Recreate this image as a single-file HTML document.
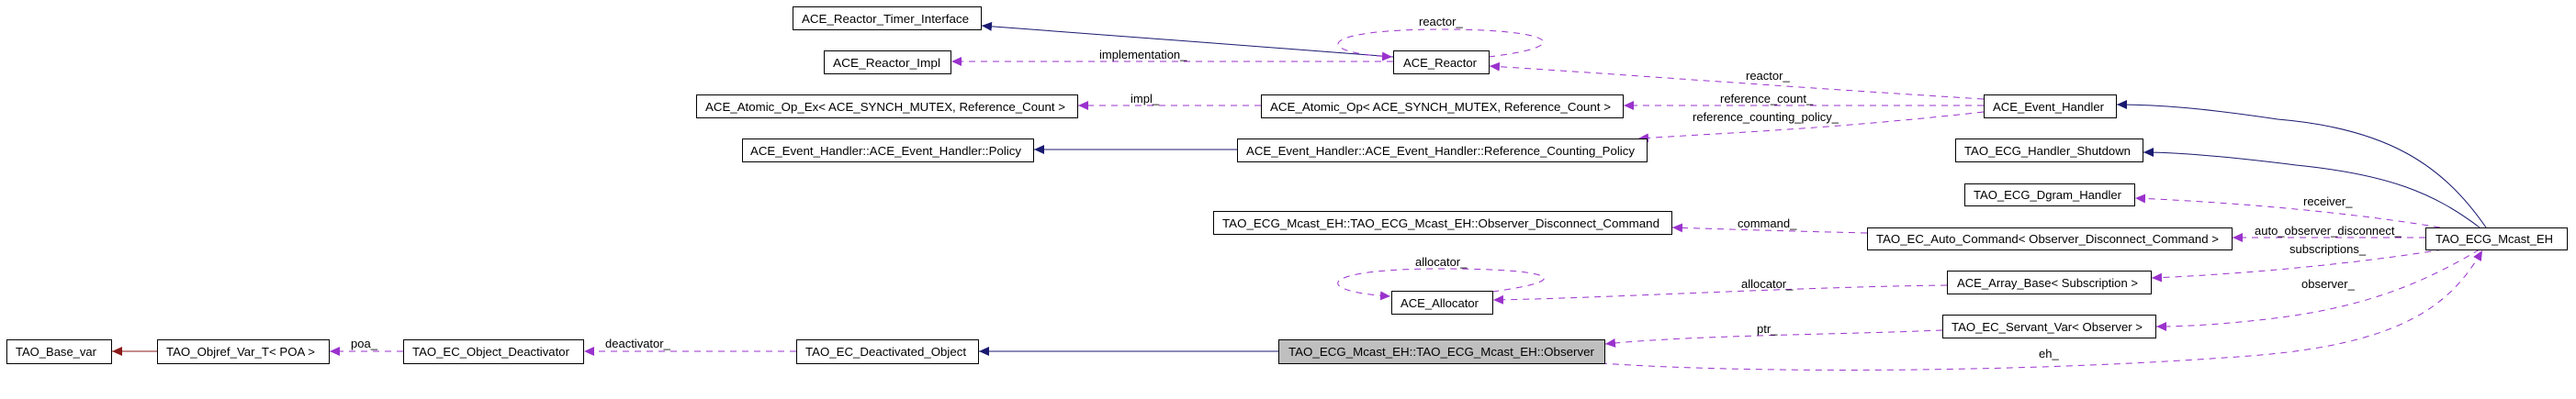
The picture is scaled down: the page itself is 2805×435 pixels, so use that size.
<!DOCTYPE html>
<html><head><meta charset="utf-8"><style>
html,body{margin:0;padding:0;background:#fff;}
svg{display:block;}
text{font-family:"Liberation Sans",sans-serif;font-size:13px;fill:#000;}
.b{fill:#fff;stroke:#000;stroke-width:1;}
.n{stroke:#191970;fill:none;stroke-width:1;}
.p{stroke:#9a32cd;fill:none;stroke-width:1;stroke-dasharray:7,6;}
</style></head><body>
<svg width="2805" height="435" viewBox="0 0 2805 435" xmlns="http://www.w3.org/2000/svg">
<defs>
<marker id="an" markerWidth="12" markerHeight="10" refX="11" refY="5" orient="auto" markerUnits="userSpaceOnUse"><path d="M0,0 L11,5 L0,10 z" fill="#191970"/></marker>
<marker id="ap" markerWidth="12" markerHeight="10" refX="11" refY="5" orient="auto" markerUnits="userSpaceOnUse"><path d="M0,0 L11,5 L0,10 z" fill="#9a32cd"/></marker>
<marker id="ar" markerWidth="12" markerHeight="10" refX="11" refY="5" orient="auto" markerUnits="userSpaceOnUse"><path d="M0,0 L11,5 L0,10 z" fill="#8b1a1a"/></marker>
</defs>

<!-- edges -->
<path d="M171,383 L122,383" stroke="#8b1a1a" fill="none" marker-end="url(#ar)"/>
<path class="p" d="M439,383 L359,383" marker-end="url(#ap)"/>
<path class="p" d="M867,383 L636,383" marker-end="url(#ap)"/>
<path class="n" d="M1392,383 L1066,383" marker-end="url(#an)"/>
<path class="n" d="M1517,62 L1400,53 L1069,28" marker-end="url(#an)"/>
<path class="p" d="M1517,67 L1036,67" marker-end="url(#ap)"/>
<path class="p" d="M1621,62 C1720,50 1690,32 1570,32 C1430,32 1430,58 1516,62" marker-end="url(#ap)"/>
<path class="p" d="M2160,108 C1950,95 1750,80 1622,72" marker-end="url(#ap)"/>
<path class="p" d="M2160,115 L1768,115" marker-end="url(#ap)"/>
<path class="p" d="M2160,122 C2000,140 1880,145 1784,151" marker-end="url(#ap)"/>
<path class="p" d="M1373,115 L1174,115" marker-end="url(#ap)"/>
<path class="n" d="M1347,163 L1126,163" marker-end="url(#an)"/>
<path class="n" d="M2707,248 C2660,180 2600,140 2480,130 C2400,118 2350,114 2305,114" marker-end="url(#an)"/>
<path class="n" d="M2700,248 C2650,210 2600,190 2500,180 C2420,170 2370,166 2334,166" marker-end="url(#an)"/>
<path class="p" d="M2657,248 C2550,230 2420,220 2325,216" marker-end="url(#ap)"/>
<path class="p" d="M2641,259 L2431,259" marker-end="url(#ap)"/>
<path class="p" d="M2033,254 C1950,252 1880,250 1821,248" marker-end="url(#ap)"/>
<path class="p" d="M2660,272 C2550,290 2420,300 2343,303" marker-end="url(#ap)"/>
<path class="p" d="M2120,311 C1950,313 1750,325 1626,327" marker-end="url(#ap)"/>
<path class="p" d="M1625,318 C1720,305 1690,293 1570,293 C1430,293 1430,318 1514,323" marker-end="url(#ap)"/>
<path class="p" d="M2700,272 C2620,320 2550,340 2450,350 C2400,355 2370,356 2348,356" marker-end="url(#ap)"/>
<path class="p" d="M2115,360 C2000,365 1850,365 1748,375" marker-end="url(#ap)"/>
<path class="p" d="M1743,396 C1900,407 2200,407 2450,388 C2620,375 2670,330 2703,273" marker-end="url(#ap)"/>

<!-- edge labels -->
<text x="382" y="379">poa_</text>
<text x="659" y="379">deactivator_</text>
<text x="1197" y="64">implementation_</text>
<text x="1231" y="112">impl_</text>
<text x="1545" y="28">reactor_</text>
<text x="1901" y="87">reactor_</text>
<text x="1873" y="112">reference_count_</text>
<text x="1843" y="132">reference_counting_policy_</text>
<text x="1892" y="248">command_</text>
<text x="1541" y="290">allocator_</text>
<text x="1896" y="314">allocator_</text>
<text x="1913" y="363">ptr_</text>
<text x="2508" y="224">receiver_</text>
<text x="2455" y="256">auto_observer_disconnect_</text>
<text x="2493" y="276">subscriptions_</text>
<text x="2506" y="314">observer_</text>
<text x="2220" y="390">eh_</text>

<!-- nodes -->
<rect class="b" x="7.5" y="370.5" width="114" height="26"/><text x="17" y="388" textLength="88" lengthAdjust="spacingAndGlyphs">TAO_Base_var</text>
<rect class="b" x="171.5" y="370.5" width="187" height="26"/><text x="181" y="388" textLength="162" lengthAdjust="spacingAndGlyphs">TAO_Objref_Var_T&lt; POA &gt;</text>
<rect class="b" x="439.5" y="370.5" width="196" height="26"/><text x="449" y="388" textLength="171" lengthAdjust="spacingAndGlyphs">TAO_EC_Object_Deactivator</text>
<rect class="b" x="867.5" y="370.5" width="198" height="26"/><text x="877" y="388" textLength="175" lengthAdjust="spacingAndGlyphs">TAO_EC_Deactivated_Object</text>
<rect x="1392.5" y="370.5" width="355" height="26" fill="#bfbfbf" stroke="#000"/><text x="1403" y="388" textLength="333" lengthAdjust="spacingAndGlyphs">TAO_ECG_Mcast_EH::TAO_ECG_Mcast_EH::Observer</text>

<rect class="b" x="863.5" y="7.5" width="205" height="25"/><text x="873" y="25" textLength="182" lengthAdjust="spacingAndGlyphs">ACE_Reactor_Timer_Interface</text>
<rect class="b" x="897.5" y="55.5" width="138" height="25"/><text x="907" y="73" textLength="117" lengthAdjust="spacingAndGlyphs">ACE_Reactor_Impl</text>
<rect class="b" x="758.5" y="103.5" width="415" height="25"/><text x="768" y="121" textLength="392" lengthAdjust="spacingAndGlyphs">ACE_Atomic_Op_Ex&lt; ACE_SYNCH_MUTEX, Reference_Count &gt;</text>
<rect class="b" x="808.5" y="151.5" width="317" height="25"/><text x="817" y="169" textLength="295" lengthAdjust="spacingAndGlyphs">ACE_Event_Handler::ACE_Event_Handler::Policy</text>

<rect class="b" x="1517.5" y="55.5" width="104" height="25"/><text x="1528" y="73" textLength="80" lengthAdjust="spacingAndGlyphs">ACE_Reactor</text>
<rect class="b" x="1373.5" y="103.5" width="394" height="25"/><text x="1383" y="121" textLength="371" lengthAdjust="spacingAndGlyphs">ACE_Atomic_Op&lt; ACE_SYNCH_MUTEX, Reference_Count &gt;</text>
<rect class="b" x="1347.5" y="151.5" width="446" height="25"/><text x="1357" y="169" textLength="423" lengthAdjust="spacingAndGlyphs">ACE_Event_Handler::ACE_Event_Handler::Reference_Counting_Policy</text>
<rect class="b" x="1321.5" y="230.5" width="499" height="25"/><text x="1331" y="248" textLength="476" lengthAdjust="spacingAndGlyphs">TAO_ECG_Mcast_EH::TAO_ECG_Mcast_EH::Observer_Disconnect_Command</text>
<rect class="b" x="1515.5" y="317.5" width="110" height="25"/><text x="1525" y="335" textLength="85" lengthAdjust="spacingAndGlyphs">ACE_Allocator</text>

<rect class="b" x="2160.5" y="103.5" width="144" height="25"/><text x="2170" y="121" textLength="121" lengthAdjust="spacingAndGlyphs">ACE_Event_Handler</text>
<rect class="b" x="2129.5" y="151.5" width="204" height="25"/><text x="2139" y="169" textLength="181" lengthAdjust="spacingAndGlyphs">TAO_ECG_Handler_Shutdown</text>
<rect class="b" x="2139.5" y="200.5" width="185" height="24"/><text x="2149" y="217" textLength="161" lengthAdjust="spacingAndGlyphs">TAO_ECG_Dgram_Handler</text>
<rect class="b" x="2033.5" y="248.5" width="397" height="24"/><text x="2043" y="265" textLength="373" lengthAdjust="spacingAndGlyphs">TAO_EC_Auto_Command&lt; Observer_Disconnect_Command &gt;</text>
<rect class="b" x="2641.5" y="248.5" width="154" height="24"/><text x="2652" y="265" textLength="128" lengthAdjust="spacingAndGlyphs">TAO_ECG_Mcast_EH</text>
<rect class="b" x="2120.5" y="295.5" width="222" height="25"/><text x="2131" y="313" textLength="197" lengthAdjust="spacingAndGlyphs">ACE_Array_Base&lt; Subscription &gt;</text>
<rect class="b" x="2115.5" y="343.5" width="232" height="25"/><text x="2125" y="361" textLength="208" lengthAdjust="spacingAndGlyphs">TAO_EC_Servant_Var&lt; Observer &gt;</text>
</svg>
</body></html>
